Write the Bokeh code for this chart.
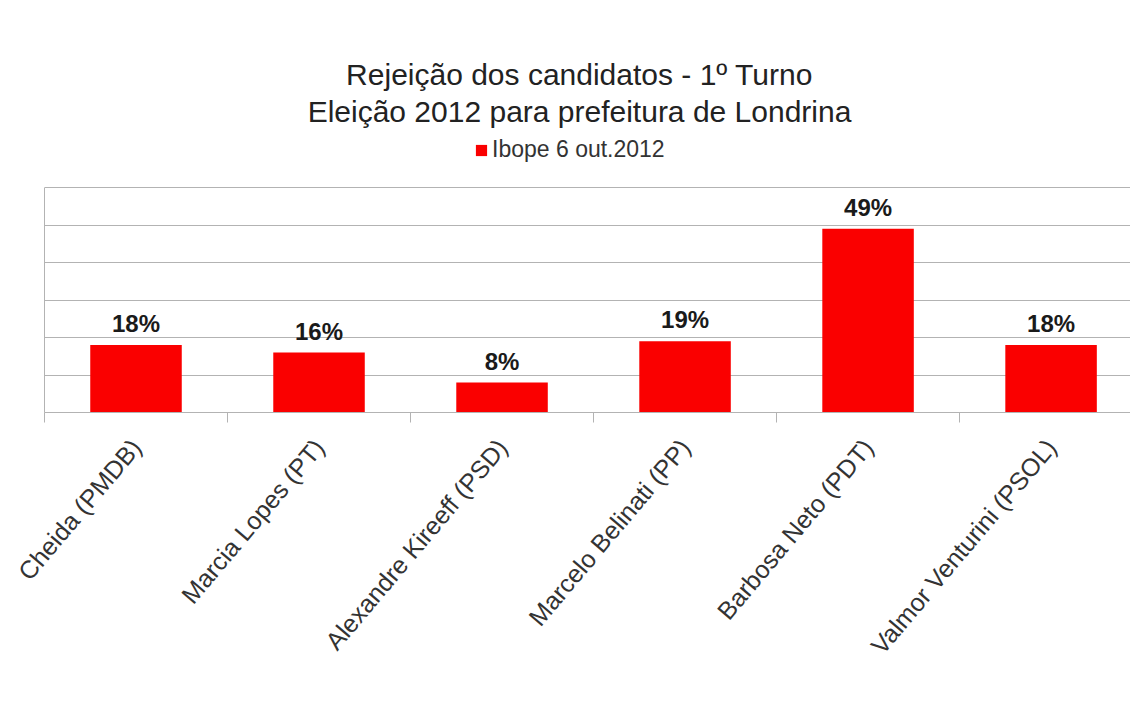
import math
from bokeh.plotting import figure
from bokeh.models import (ColumnDataSource, Range1d, FixedTicker, Label, Legend,
                          LegendItem, CustomJSTickFormatter)
from bokeh.embed import file_html
from bokeh.resources import INLINE
from bokeh.core.properties import value

# ---- data ----
candidates = ["Cheida (PMDB)", "Marcia Lopes (PT)", "Alexandre Kireeff (PSD)",
              "Marcelo Belinati (PP)", "Barbosa Neto (PDT)", "Valmor Venturini (PSOL)"]
rejection = [18, 16, 8, 19, 49, 18]
series_name = "Ibope 6 out.2012"
title_lines = ["Rejeição dos candidatos - 1º Turno",
               "Eleição 2012 para prefeitura de Londrina"]
y_ticks = [0, 10, 20, 30, 40, 50, 60]

positions = [i + 0.5 for i in range(len(candidates))]
boundaries = list(range(len(candidates) + 1))
value_labels = [f"{v}%" for v in rejection]

FONT = "Liberation Sans"
GRID = "#b3b3b3"

src = ColumnDataSource(dict(x=positions, top=rejection, label=value_labels, name=candidates))

# frame spans the whole height above the axis so that titles/legend are not clipped;
# gridlines and the left axis line are limited to 0..60
p = figure(width=1130, height=708, output_backend="svg", toolbar_location=None,
           x_range=Range1d(0, 5.934), y_range=Range1d(0, 412 / 3.75),
           min_border_left=44, min_border_right=0, min_border_top=0,
           min_border_bottom=296)
p.outline_line_color = None
p.background_fill_color = "white"
p.border_fill_color = "white"

bars = p.vbar(x="x", top="top", width=0.5, bottom=0, source=src,
              fill_color="#fa0000", line_color=None)

p.text(x="x", y="top", text="label", source=src, text_align="center",
       text_baseline="bottom", y_offset=-8, text_font=value(FONT),
       text_font_style="bold", text_font_size="24px", text_color="#1a1a1a")

# y axis: line only, from 0 to 60
yax = p.yaxis[0]
yax.ticker = FixedTicker(ticks=y_ticks)
yax.bounds = (0, 60)
yax.formatter = CustomJSTickFormatter(code="return '';")
yax.major_tick_out = 0
yax.major_tick_in = 0
yax.minor_tick_out = 0
yax.minor_tick_in = 0
yax.axis_line_color = GRID
p.ygrid.ticker = FixedTicker(ticks=y_ticks)
p.ygrid.grid_line_color = GRID
p.xgrid.visible = False

# x axis
ax = p.xaxis[0]
ax.ticker = FixedTicker(ticks=positions, minor_ticks=boundaries)
ax.formatter = CustomJSTickFormatter(args=dict(names=candidates),
                                     code="return names[Math.floor(tick)];")
ax.axis_line_color = GRID
ax.major_tick_out = 0
ax.major_tick_in = 0
ax.minor_tick_out = 10
ax.minor_tick_in = 0
ax.minor_tick_line_color = GRID
ax.major_label_orientation = 0.87
ax.major_label_standoff = 20
ax.major_label_text_font = FONT
ax.major_label_text_font_size = "25px"
ax.major_label_text_color = "#333333"

# titles (screen units relative to frame: left=44, bottom=412)
for txt, yy in zip(title_lines, [338, 301]):
    p.add_layout(Label(x=535, y=yy, x_units="screen", y_units="screen", text=txt,
                       text_align="center", text_baseline="middle",
                       text_font=FONT, text_font_size="30px", text_color="#222222"))

legend = Legend(items=[LegendItem(label=series_name, renderers=[bars])],
                location=(430, 249), orientation="horizontal",
                padding=0, margin=0, spacing=0,
                glyph_width=14, glyph_height=14, label_standoff=4,
                border_line_color=None, background_fill_alpha=0,
                label_text_font=FONT, label_text_font_size="23px",
                label_text_color="#333333")
p.add_layout(legend)

open("out.html", "w").write(file_html(p, INLINE))
